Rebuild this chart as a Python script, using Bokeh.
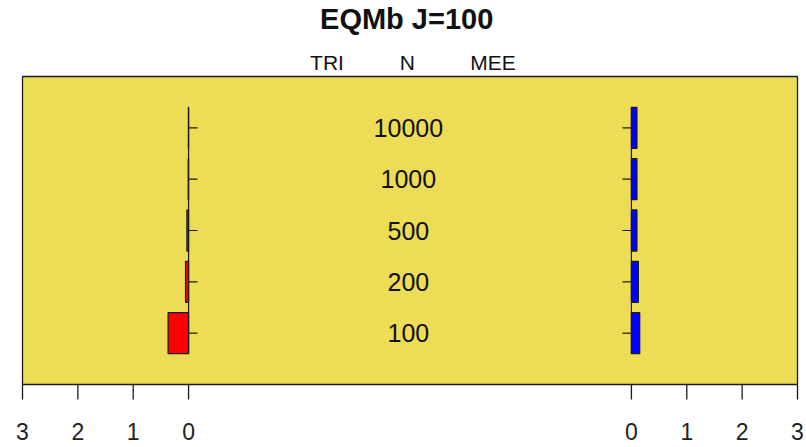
from bokeh.plotting import figure
from bokeh.models import Range1d, ColumnDataSource
from bokeh.core.properties import value
from bokeh.embed import file_html
from bokeh.resources import INLINE

# ---- data ----
n_labels = ["100", "200", "500", "1000", "10000"]
tri_values = [0.37, 0.055, 0.03, 0.006, 0.003]
mee_values = [0.15, 0.125, 0.10, 0.10, 0.10]
left_ticks = [3, 2, 1, 0]
right_ticks = [0, 1, 2, 3]
title_text = "EQMb J=100"
top_labels = ["TRI", "N", "MEE"]

GAP = 4.0
XMAX = GAP + max(right_ticks)
NROW = len(n_labels)
BG = "#EDDC56"
FONT = "Liberation Sans"
INK = "#1a1a1a"

# pixel geometry of the plotting box (canvas 806x447, box 22..797 x 76..384)
W, H = 806, 447
BX0, BX1, BY0, BY1 = 22, 797, 76, 384
sx = (BX1 - BX0) / (2 * XMAX)          # px per x unit
sy = (BY1 - BY0) / (NROW + 1)          # px per y unit
xc = BX0 + XMAX * sx
x_lo, x_hi = -xc / sx, (W - xc) / sx
y_lo, y_hi = -(H - BY1) / sy, BY1 / sy

ypos = list(range(1, NROW + 1))

p = figure(width=W, height=H, output_backend="svg", toolbar_location=None,
           x_range=Range1d(x_lo, x_hi), y_range=Range1d(y_lo, y_hi),
           min_border=0, min_border_left=0, min_border_right=0,
           min_border_top=0, min_border_bottom=0)
p.xaxis.visible = False
p.yaxis.visible = False
p.grid.visible = False
p.background_fill_color = "white"
p.border_fill_color = "white"
p.outline_line_color = None

# plotting box
p.quad(left=[-XMAX], right=[XMAX], bottom=[0], top=[NROW + 1],
       fill_color=BG, line_color=INK, line_width=1.3)

# bottom ticks and labels
tick_vals = [-(GAP + t) for t in left_ticks] + [GAP + t for t in right_ticks]
tick_text = [str(t) for t in left_ticks] + [str(t) for t in right_ticks]
tick_len = 15 / sy
p.segment(x0=tick_vals, y0=[0] * len(tick_vals), x1=tick_vals,
          y1=[-tick_len] * len(tick_vals), line_color=INK, line_width=1.3)
p.text(x=tick_vals, y=[-(431 - BY1) / sy] * len(tick_vals), text=tick_text,
       text_align="center", text_baseline="middle", text_font=value(FONT),
       text_font_size="23px", text_color="#222222")

# bars
left_src = ColumnDataSource(dict(
    left=[-GAP - v for v in tri_values], right=[-GAP] * len(tri_values),
    bottom=[y - 0.4 for y in ypos], top=[y + 0.4 for y in ypos]))
right_src = ColumnDataSource(dict(
    left=[GAP] * len(mee_values), right=[GAP + v for v in mee_values],
    bottom=[y - 0.4 for y in ypos], top=[y + 0.4 for y in ypos]))

# center axis lines
p.segment(x0=[-GAP, GAP], y0=[0.6, 0.6], x1=[-GAP, GAP], y1=[NROW + 0.4] * 2,
          line_color=INK, line_width=1.2)
tl = 9 / sx
p.segment(x0=[-GAP] * NROW, y0=ypos, x1=[-GAP + tl] * NROW, y1=ypos,
          line_color=INK, line_width=1.2)
p.segment(x0=[GAP - tl] * NROW, y0=ypos, x1=[GAP] * NROW, y1=ypos,
          line_color=INK, line_width=1.2)

p.quad(source=left_src, left="left", right="right", bottom="bottom", top="top",
       fill_color="#FF0000", line_color=INK, line_width=1.2)
p.quad(source=right_src, left="left", right="right", bottom="bottom", top="top",
       fill_color="#0000FF", line_color=INK, line_width=1.2)

# N labels
p.text(x=[-0.03] * NROW, y=ypos, text=n_labels, text_align="center",
       text_baseline="middle", text_font=value(FONT), text_font_size="25px",
       text_color="#111111")

# title and top labels
p.text(x=[-0.06], y=[(BY1 - 18) / sy], text=[title_text], text_align="center",
       text_baseline="middle", text_font=value(FONT), text_font_size="29px",
       text_font_style="bold", text_color="#111111")
p.text(x=[-1.5, -0.05, 1.5], y=[(BY1 - 62) / sy] * 3, text=top_labels,
       text_align="center", text_baseline="middle", text_font=value(FONT),
       text_font_size="21px", text_color="#111111")

open("out.html", "w").write(file_html(p, INLINE))
